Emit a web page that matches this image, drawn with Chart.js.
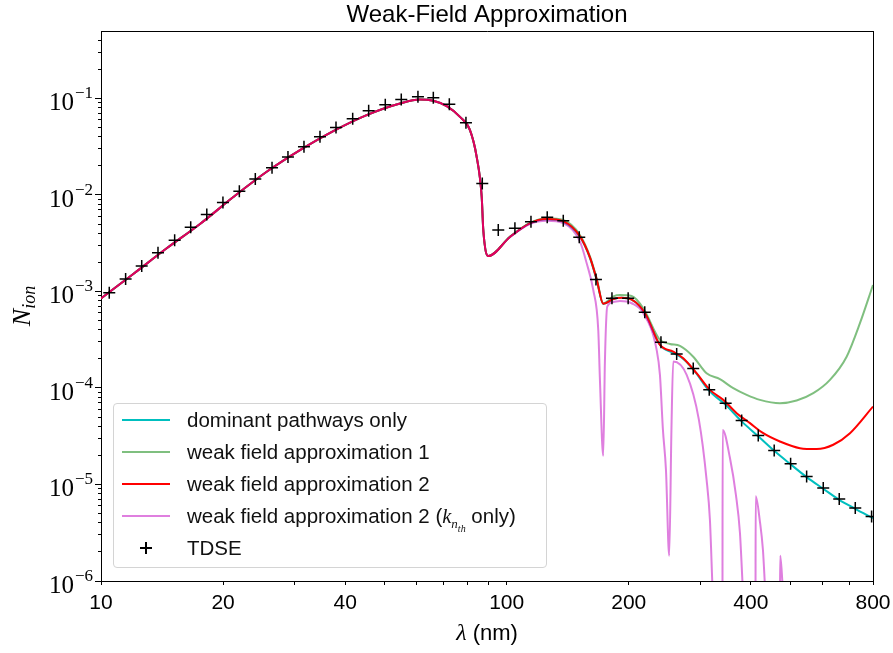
<!DOCTYPE html>
<html>
<head>
<meta charset="utf-8">
<script src="https://cdn.jsdelivr.net/npm/chart.js@4.4.1/dist/chart.umd.min.js"></script>
<style>
  html, body { margin: 0; padding: 0; background: #fff; }
  #wrap { position: relative; width: 893px; height: 653px; }
  #legend {
    position: absolute; left: 113px; top: 403px; width: 432px; height: 163px;
    border: 1px solid #d4d4d4; border-radius: 4px; background: rgba(255,255,255,0.8);
    font-family: 'Liberation Sans', sans-serif; font-size: 20.5px; color: #111;
  }
  .row { position: absolute; left: 0; width: 100%; height: 32px; }
  .swatch { position: absolute; left: 8px; top: 15px; width: 48px; height: 2px; }
  .lbl { position: absolute; left: 73px; top: 4px; white-space: nowrap; }
  .cross-h { position: absolute; left: 26px; top: 15px; width: 12px; height: 2px; background: #000; }
  .cross-v { position: absolute; left: 31px; top: 10px; width: 2px; height: 12px; background: #000; }
  .m { font-family: 'Liberation Serif', serif; font-style: italic; }
</style>
</head>
<body>
<div id="wrap">
  <canvas id="chart" width="893" height="653"></canvas>
  <div id="legend"></div>
</div>
<script>
// axis ticks
const xTickValues = [10, 20, 30, 40, 50, 60, 70, 80, 90, 100, 200, 300, 400, 500, 600, 700, 800];
const xTickLabels = [10, 20, 40, 100, 200, 400, 800];
const yDecades = [1e-6, 1e-5, 1e-4, 1e-3, 1e-2, 1e-1];
const yMax = 0.5;

// dominant pathways only
const lamDominant = [10.0, 12.01, 14.52, 17.54, 21.19, 25.61, 30.94, 37.38, 45.17, 54.58, 61.13, 65.95, 71.16, 76.72, 81.20, 84.35, 86.79, 87.58, 90.10,
  101.9, 114.1, 125.5, 137.9, 151.6, 160.5, 166.7, 173.0, 183.2, 192.0, 203.3, 219.3, 238.7, 257.4, 272.5, 288.4, 315.8, 346.6, 379.6, 417.1, 456.6, 501.2, 548.9, 603.2, 660.5, 723.4, 800];
const nDominant = [8.46e-4, 1.518e-3, 2.80e-3, 5.00e-3, 9.51e-3, 1.739e-2, 2.916e-2, 4.59e-2, 6.72e-2, 8.87e-2, 9.76e-2, 9.45e-2, 8.32e-2, 6.45e-2, 4.70e-2, 2.486e-2, 9.58e-3, 4.33e-3, 2.33e-3,
  3.67e-3, 5.08e-3, 5.59e-3, 5.28e-3, 3.69e-3, 2.22e-3, 1.315e-3, 7.42e-4, 8.35e-4, 8.6e-4, 8.25e-4, 5.95e-4, 2.79e-4, 2.31e-4, 2.0e-4, 1.558e-4, 9.33e-5, 6.69e-5, 4.51e-5, 3.155e-5, 2.233e-5, 1.618e-5, 1.193e-5, 9.03e-6, 6.94e-6, 5.60e-6, 4.47e-6];

// weak field approximation 1
const lamWeak1 = [10.0, 12.01, 14.52, 17.54, 21.19, 25.61, 30.94, 37.38, 45.17, 54.58, 61.13, 65.95, 71.16, 76.72, 81.20, 84.35, 86.79, 87.58, 90.10,
  101.9, 114.1, 125.5, 137.9, 151.6, 160.5, 166.7, 173.0, 183.2, 190.2, 203.3, 217.2, 238.7, 252.6, 267.4, 288.4, 311.1, 335.5, 361.9, 390.5, 421.1, 471.7, 518.6, 570.0, 626.6, 688.8, 742.9, 800];
const nWeak1 = [8.46e-4, 1.518e-3, 2.80e-3, 5.00e-3, 9.51e-3, 1.739e-2, 2.916e-2, 4.59e-2, 6.72e-2, 8.87e-2, 9.76e-2, 9.45e-2, 8.32e-2, 6.45e-2, 4.70e-2, 2.486e-2, 9.58e-3, 4.33e-3, 2.33e-3,
  3.70e-3, 5.15e-3, 5.75e-3, 5.50e-3, 3.85e-3, 2.30e-3, 1.36e-3, 7.55e-4, 8.9e-4, 9.2e-4, 8.98e-4, 6.70e-4, 3.15e-4, 2.86e-4, 2.73e-4, 2.11e-4, 1.422e-4, 1.234e-4, 9.95e-5, 8.48e-5, 7.53e-5, 6.96e-5, 7.41e-5, 8.83e-5, 1.213e-4, 2.11e-4, 4.69e-4, 1.168e-3];

// weak field approximation 2
const lamWeak2 = [10.0, 12.01, 14.52, 17.54, 21.19, 25.61, 30.94, 37.38, 45.17, 54.58, 61.13, 65.95, 71.16, 76.72, 81.20, 84.35, 86.79, 87.58, 90.10,
  101.9, 114.1, 125.5, 137.9, 151.6, 160.5, 166.7, 173.0, 183.2, 192.0, 203.3, 219.3, 238.7, 257.4, 272.5, 293.9, 317.0, 342.0, 369.0, 397.9, 429.1, 471.7, 528.4, 581.0, 638.4, 702.0, 800];
const nWeak2 = [8.46e-4, 1.518e-3, 2.80e-3, 5.00e-3, 9.51e-3, 1.739e-2, 2.916e-2, 4.59e-2, 6.72e-2, 8.87e-2, 9.76e-2, 9.45e-2, 8.32e-2, 6.45e-2, 4.70e-2, 2.486e-2, 9.58e-3, 4.33e-3, 2.33e-3,
  3.67e-3, 5.08e-3, 5.62e-3, 5.32e-3, 3.72e-3, 2.24e-3, 1.33e-3, 7.45e-4, 8.35e-4, 8.6e-4, 8.25e-4, 5.95e-4, 2.79e-4, 2.38e-4, 2.03e-4, 1.422e-4, 9.56e-5, 7.53e-5, 5.48e-5, 4.32e-5, 3.40e-5, 2.79e-5, 2.38e-5, 2.33e-5, 2.58e-5, 3.40e-5, 6.42e-5];

// weak field approximation 2 (k_nth only); null = below the plot
const lamKnth = [10.0, 12.01, 14.52, 17.54, 21.19, 25.61, 30.94, 37.38, 45.17, 54.58, 61.13, 65.95, 71.16, 76.72, 81.20, 84.35, 86.79, 87.58, 90.10,
  101.9, 114.1, 125.5, 137.9, 151.6, 157.5, 163.5, 168.2, 169.8, 173.0, 174.7, 177.0, 183.2, 190.2, 203.3, 217.2, 234.3, 238.7, 242.8, 247.0, 251.6, 254.8, 257.4, 277.8, 297.8, 311.1, 317.0, 321.5,
  330, 340.4, 340.8, 355.1, 367.4, 375.9, 381.7, 395, 410.6, 411.1, 421.1, 428.3, 433.2, 450, 471.7, 472.5, 479.0];
const nKnth = [8.46e-4, 1.518e-3, 2.80e-3, 5.00e-3, 9.51e-3, 1.739e-2, 2.916e-2, 4.59e-2, 6.72e-2, 8.87e-2, 9.76e-2, 9.45e-2, 8.32e-2, 6.45e-2, 4.70e-2, 2.486e-2, 9.58e-3, 4.33e-3, 2.33e-3,
  3.67e-3, 5.0e-3, 5.4e-3, 5.1e-3, 3.28e-3, 1.958e-3, 1.036e-3, 3.99e-4, 1.213e-4, 1.98e-5, 1.954e-4, 6.96e-4, 7.79e-4, 7.97e-4, 7.55e-4, 5.95e-4, 2.48e-4, 1.366e-4, 3.68e-5, 1.42e-5, 1.83e-6, 3.68e-5, 1.876e-4, 1.366e-4, 4.67e-5, 1.119e-5, 4.31e-6, 9e-7,
  null, 5e-7, 3.68e-5, 1.89e-5, 7.82e-6, 3.16e-6, 9e-7, null, 5e-7, 7.54e-6, 4.11e-6, 2.11e-6, 9e-7, null, 5e-7, 1.83e-6, 9e-7];

// TDSE
const lamTdse = [10.48, 11.50, 12.60, 13.82, 15.19, 16.64, 18.23, 19.98, 21.93, 24.01, 26.40, 28.90, 31.65, 34.66, 37.96, 41.73, 45.69, 50.21, 54.98, 60.44, 65.95, 72.22, 79.37, 87.08,
  95.35, 104.8, 114.8, 125.9, 137.9, 151.0, 166.0, 181.8, 199.3, 219.0, 240.1, 262.5, 288.4, 315.8, 346.6, 379.6, 417.1, 456.6, 501.2, 548.9, 603.2, 660.5, 723.4, 793.7];
const nTdse = [9.72e-4, 1.347e-3, 1.837e-3, 2.52e-3, 3.39e-3, 4.62e-3, 6.27e-3, 8.34e-3, 1.090e-2, 1.461e-2, 1.912e-2, 2.468e-2, 3.155e-2, 4.004e-2, 5.01e-2, 6.15e-2, 7.44e-2, 8.59e-2, 9.76e-2, 0.1039, 0.1014, 8.73e-2, 5.59e-2, 1.318e-2,
  4.33e-3, 4.51e-3, 5.28e-3, 5.86e-3, 5.40e-3, 3.64e-3, 1.331e-3, 8.50e-4, 8.50e-4, 6.09e-4, 2.98e-4, 2.25e-4, 1.588e-4, 9.56e-5, 6.96e-5, 4.60e-5, 3.215e-5, 2.249e-5, 1.638e-5, 1.210e-5, 9.18e-6, 7.06e-6, 5.70e-6, 4.66e-6];

const legendItems = [
  { label: 'dominant pathways only', color: '#00bfbf' },
  { label: 'weak field approximation 1', color: 'rgba(0,128,0,0.5)' },
  { label: 'weak field approximation 2', color: '#ff0000' },
  { label: 'weak field approximation 2 (<span class="m">k</span><sub style="font-size:13px;"><span class="m">n</span><sub style="font-size:10px;"><span class="m">th</span></sub></sub> only)', color: 'rgba(191,0,191,0.5)' },
  { label: 'TDSE', marker: true }
];

function pts(xs, ys) {
  return xs.map((x, i) => ({ x: x, y: ys[i] }));
}

function lineSet(label, xs, ys, color, order) {
  return {
    label: label, data: pts(xs, ys), borderColor: color, backgroundColor: color,
    borderWidth: 2, pointRadius: 0, fill: false, spanGaps: false,
    cubicInterpolationMode: 'monotone', order: order, clip: 0
  };
}

const labelFont = "'Liberation Sans', 'DejaVu Sans', sans-serif";
const serifFont = "'Liberation Serif', 'DejaVu Serif', serif";

const decorations = {
  id: 'decorations',
  afterDraw(chart) {
    const { ctx, chartArea: a } = chart;
    const ys = chart.scales.y;
    ctx.save();
    // top and right spines
    ctx.strokeStyle = '#000';
    ctx.lineWidth = 1;
    ctx.beginPath();
    ctx.moveTo(a.left, Math.round(a.top) + 0.5);
    ctx.lineTo(a.right + 0.5, Math.round(a.top) + 0.5);
    ctx.moveTo(Math.round(a.right) + 0.5, a.top);
    ctx.lineTo(Math.round(a.right) + 0.5, a.bottom);
    ctx.stroke();

    ctx.fillStyle = '#000';
    // title
    ctx.font = "24px " + labelFont;
    ctx.textAlign = 'center';
    ctx.textBaseline = 'alphabetic';
    ctx.fillText('Weak-Field Approximation', (a.left + a.right) / 2, 22);

    // y tick labels 10^-k
    ctx.textAlign = 'left';
    yDecades.forEach(v => {
      const py = ys.getPixelForValue(v);
      const exp = '\u2212' + Math.round(-Math.log10(v));
      ctx.font = "25px " + serifFont;
      const wBase = ctx.measureText('10').width;
      ctx.font = "17px " + serifFont;
      const wExp = ctx.measureText(exp).width;
      const x0 = 92 - wBase - wExp;
      ctx.font = "25px " + serifFont;
      ctx.fillText('10', x0, py + 12);
      ctx.font = "17px " + serifFont;
      ctx.fillText(exp, x0 + wBase + 1, py);
    });

    // x axis label
    ctx.font = "italic 24px " + serifFont;
    const wL = ctx.measureText('\u03bb').width;
    ctx.font = "22px " + labelFont;
    const wR = ctx.measureText(' (nm)').width;
    const cx = (a.left + a.right) / 2 - (wL + wR) / 2;
    ctx.font = "italic 24px " + serifFont;
    ctx.fillText('\u03bb', cx, 640);
    ctx.font = "22px " + labelFont;
    ctx.fillText(' (nm)', cx + wL, 640);

    // y axis label N_ion
    ctx.translate(30, (a.top + a.bottom) / 2);
    ctx.rotate(-Math.PI / 2);
    ctx.font = "italic 26px " + serifFont;
    const wN = ctx.measureText('N').width;
    ctx.font = "italic 18px " + serifFont;
    const wI = ctx.measureText('ion').width;
    const sx = -(wN + wI) / 2;
    ctx.font = "italic 26px " + serifFont;
    ctx.fillText('N', sx, 0);
    ctx.font = "italic 18px " + serifFont;
    ctx.fillText('ion', sx + wN, 5);
    ctx.restore();
  }
};

const yMinor = [];
yDecades.forEach(d => {
  for (let k = 2; k <= 9; k++) {
    if (k * d < yMax) yMinor.push(k * d);
  }
});

new Chart(document.getElementById('chart'), {
  type: 'line',
  data: {
    datasets: [
      lineSet('dominant pathways only', lamDominant, nDominant, '#00bfbf', 5),
      lineSet('weak field approximation 1', lamWeak1, nWeak1, 'rgba(0,128,0,0.5)', 4),
      lineSet('weak field approximation 2', lamWeak2, nWeak2, '#ff0000', 3),
      lineSet('weak field approximation 2 (k_nth only)', lamKnth, nKnth, 'rgba(191,0,191,0.5)', 2),
      {
        label: 'TDSE', data: pts(lamTdse, nTdse), showLine: false,
        pointStyle: 'cross', pointRadius: 6, pointBorderWidth: 1.5,
        pointBorderColor: '#000', pointBackgroundColor: '#000', order: 1, clip: 0
      }
    ]
  },
  options: {
    responsive: false,
    animation: false,
    devicePixelRatio: 1,
    layout: { padding: { top: 31, right: 20, left: 0, bottom: 0 } },
    plugins: { legend: { display: false }, title: { display: false }, tooltip: { enabled: false } },
    scales: {
      x: {
        type: 'logarithmic', position: 'bottom', min: 10, max: 800,
        afterFit(s) { s.height = 72; s.paddingLeft = 0; s.paddingRight = 0; },
        afterBuildTicks(s) { s.ticks = xTickValues.map(v => ({ value: v })); },
        ticks: {
          autoSkip: false, maxRotation: 0, padding: 6, color: '#000',
          font: { family: labelFont, size: 21 },
          callback(v) { return xTickLabels.includes(v) ? String(v) : ''; }
        },
        grid: { display: true, drawOnChartArea: false, drawTicks: true, tickLength: 4, color: '#000', lineWidth: 1 },
        border: { display: true, color: '#000', width: 1 }
      },
      y2: {
        type: 'logarithmic', position: 'left', min: 1e-6, max: yMax, weight: 0, display: true,
        afterFit(s) { s.width = 0; },
        afterBuildTicks(s) { s.ticks = yMinor.map(v => ({ value: v })); },
        ticks: { display: false },
        grid: { display: true, drawOnChartArea: false, drawTicks: true, tickLength: 3, color: '#000', lineWidth: 1 },
        border: { display: false }
      },
      y: {
        type: 'logarithmic', position: 'left', min: 1e-6, max: yMax, weight: 1, display: true,
        afterFit(s) { s.width = 101; },
        afterBuildTicks(s) { s.ticks = yDecades.map(v => ({ value: v })); },
        ticks: { display: false },
        grid: { display: true, drawOnChartArea: false, drawTicks: true, tickLength: 6, color: '#000', lineWidth: 1 },
        border: { display: true, color: '#000', width: 1 }
      }
    }
  },
  plugins: [decorations]
});

// legend box
const legendEl = document.getElementById('legend');
legendItems.forEach((item, i) => {
  const row = document.createElement('div');
  row.className = 'row';
  row.style.top = (32 * i) + 'px';
  let html = '';
  if (item.marker) {
    html += '<div class="cross-h"></div><div class="cross-v"></div>';
  } else {
    html += '<div class="swatch" style="background:' + item.color + '"></div>';
  }
  html += '<div class="lbl">' + item.label + '</div>';
  row.innerHTML = html;
  legendEl.appendChild(row);
});
</script>
</body>
</html>
